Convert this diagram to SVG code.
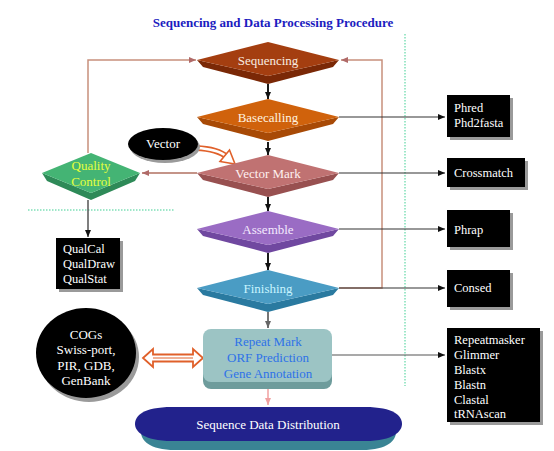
<svg xmlns="http://www.w3.org/2000/svg" width="554" height="451" viewBox="0 0 554 451">
<style>
.t{font-family:"Liberation Serif","Times New Roman",serif;font-size:12.5px;fill:#fff}
.dl{font-family:"Liberation Serif","Times New Roman",serif;font-size:13px;text-anchor:middle}
.blk{fill:#000}
.shd{fill:#9a9a9a}
.conn{fill:none;stroke:#333;stroke-width:1.2}
.loop{fill:none;stroke:#c8907c;stroke-width:1.5}
.dot{fill:none;stroke:#7fe0b8;stroke-width:1.5;stroke-dasharray:1.5 1.5}
</style>
<defs>
<marker id="ab" markerWidth="8" markerHeight="8" refX="7" refY="4" orient="auto" markerUnits="userSpaceOnUse"><path d="M0,1 L7,4 L0,7 Z" fill="#111"/></marker>
<marker id="ag" markerWidth="8" markerHeight="8" refX="7" refY="4" orient="auto" markerUnits="userSpaceOnUse"><path d="M0,1 L7,4 L0,7 Z" fill="#666"/></marker>
<marker id="ap" markerWidth="8" markerHeight="8" refX="7" refY="4" orient="auto" markerUnits="userSpaceOnUse"><path d="M0,1 L7,4 L0,7 Z" fill="#b06a68"/></marker>
<marker id="apk" markerWidth="8" markerHeight="8" refX="7" refY="4" orient="auto" markerUnits="userSpaceOnUse"><path d="M0,1 L7,4 L0,7 Z" fill="#f0a0a0"/></marker>
<path id="dTop" d="M-71,0 L0,-18 L71,0 L0,16 Z"/>
<path id="dSide" d="M-71,0 L0,16 L71,0 L65,7 L0,24 L-65,7 Z"/>
</defs>
<rect width="554" height="451" fill="#fff"/>
<text x="273" y="27" text-anchor="middle" style="font-family:'Liberation Serif','Times New Roman',serif;font-size:13px;font-weight:bold;fill:#1c1cc0">Sequencing and Data Processing Procedure</text>
<g id="guides">
<line class="dot" x1="405" y1="34" x2="405" y2="386"/>
<line class="dot" x1="28" y1="210" x2="174" y2="210"/>
</g>
<g id="connectors">
<line x1="268" y1="84" x2="268" y2="99" marker-end="url(#ab)" stroke="#000" stroke-width="1.8"/>
<line x1="268" y1="142" x2="268" y2="155" marker-end="url(#ab)" stroke="#000" stroke-width="1.8"/>
<line x1="268" y1="197" x2="268" y2="211" marker-end="url(#ab)" stroke="#000" stroke-width="1.8"/>
<line x1="268" y1="253" x2="268" y2="270" marker-end="url(#ab)" stroke="#000" stroke-width="1.8"/>
<line x1="268" y1="312" x2="268" y2="328" stroke="#666" stroke-width="1.8" marker-end="url(#ag)"/>
<line x1="268" y1="389" x2="268" y2="405" stroke="#f0a0a0" stroke-width="1.5" marker-end="url(#apk)"/>
<polyline class="loop" points="88,153 88,60 196,60" marker-end="url(#ap)"/>
<polyline class="loop" points="339,288 382,288 382,60 341,60" marker-end="url(#ap)"/>
<line x1="197" y1="173" x2="142" y2="173" stroke="#b07060" stroke-width="1.5" marker-end="url(#ap)"/>
<line x1="88" y1="200" x2="88" y2="237" stroke="#555" stroke-width="1.5" marker-end="url(#ab)"/>
<line class="conn" x1="339" y1="117" x2="445" y2="117" marker-end="url(#ab)"/>
<line class="conn" x1="339" y1="173" x2="445" y2="173" marker-end="url(#ab)"/>
<line class="conn" x1="339" y1="229" x2="445" y2="229" marker-end="url(#ab)"/>
<line class="conn" x1="339" y1="288" x2="445" y2="288" marker-end="url(#ab)"/>
<line class="conn" x1="332" y1="355" x2="445" y2="355" marker-end="url(#ab)" style="stroke:#555"/>
<path d="M196,148 Q218,149 227,157" fill="none" stroke="#e0602a" stroke-width="6"/>
<path d="M196,148 Q218,149 227,157" fill="none" stroke="#fff" stroke-width="2.5"/>
<polygon points="229.5,150 235,164 220,161.5" fill="#fff" stroke="#e0602a" stroke-width="1.6"/>
<polygon points="143,358 153,349 153,354.5 193,354.5 193,349 203,358 193,367 193,361.5 153,361.5 153,367" fill="#fff" stroke="#e0602a" stroke-width="1.8"/>
<line x1="153" y1="358" x2="193" y2="358" stroke="#e0602a" stroke-width="1"/>
</g>
<g id="sequencing" transform="translate(268,60)">
<use href="#dSide" fill="#7a2806"/><use href="#dTop" fill="#a43e10"/>
<text class="dl" y="5" fill="#f8ece0">Sequencing</text>
</g>
<g id="basecalling" transform="translate(268,117)">
<use href="#dSide" fill="#a84a06"/><use href="#dTop" fill="#d0620c"/>
<text class="dl" y="5" fill="#fff4e0">Basecalling</text>
</g>
<g id="vectormark" transform="translate(268,173)">
<use href="#dSide" fill="#985050"/><use href="#dTop" fill="#c07272"/>
<text class="dl" y="5" fill="#fff0f0">Vector Mark</text>
</g>
<g id="assemble" transform="translate(268,229)">
<use href="#dSide" fill="#7048a0"/><use href="#dTop" fill="#9a6cc4"/>
<text class="dl" y="5" fill="#f4eaff">Assemble</text>
</g>
<g id="finishing" transform="translate(268,288)">
<use href="#dSide" fill="#2a7aa0"/><use href="#dTop" fill="#4a9cc4"/>
<text class="dl" y="5" fill="#c8f4ff">Finishing</text>
</g>
<g id="qualitycontrol" transform="translate(91,173)">
<path d="M-49,0 L0,20 L49,0 L44,8 L0,27 L-44,8 Z" fill="#2e8a58"/>
<path d="M-49,0 L0,-20 L49,0 L0,20 Z" fill="#44b474"/>
<text class="dl" y="-3" fill="#e4ff3c">Quality</text>
<text class="dl" y="13" fill="#e4ff3c">Control</text>
</g>
<g id="vector">
<ellipse cx="165" cy="147" rx="35" ry="16" class="shd"/>
<ellipse cx="163" cy="144" rx="35" ry="16" class="blk"/>
<text class="dl" x="163" y="148" fill="#fff">Vector</text>
</g>
<g id="qualcal">
<rect x="59" y="241" width="64" height="51" class="shd"/>
<rect x="56" y="238" width="64" height="51" class="blk"/>
<text class="t" x="63" y="253">QualCal</text>
<text class="t" x="63" y="268">QualDraw</text>
<text class="t" x="63" y="283">QualStat</text>
</g>
<g id="phred">
<rect x="450" y="98" width="63" height="42" class="shd"/>
<rect x="447" y="95" width="63" height="42" class="blk"/>
<text class="t" x="454" y="112">Phred</text>
<text class="t" x="454" y="127">Phd2fasta</text>
</g>
<g id="crossmatch">
<rect x="450" y="161" width="78" height="29" class="shd"/>
<rect x="447" y="158" width="78" height="29" class="blk"/>
<text class="t" x="454" y="177">Crossmatch</text>
</g>
<g id="phrap">
<rect x="450" y="213" width="63" height="37" class="shd"/>
<rect x="447" y="210" width="63" height="37" class="blk"/>
<text class="t" x="454" y="234">Phrap</text>
</g>
<g id="consed">
<rect x="450" y="273" width="63" height="37" class="shd"/>
<rect x="447" y="270" width="63" height="37" class="blk"/>
<text class="t" x="454" y="292">Consed</text>
</g>
<g id="tools">
<rect x="450" y="331" width="93" height="94" class="shd"/>
<rect x="447" y="328" width="93" height="94" class="blk"/>
<text class="t" x="454" y="344">Repeatmasker</text>
<text class="t" x="454" y="359">Glimmer</text>
<text class="t" x="454" y="374">Blastx</text>
<text class="t" x="454" y="389">Blastn</text>
<text class="t" x="454" y="404">Clastal</text>
<text class="t" x="454" y="418">tRNAscan</text>
</g>
<g id="annotation">
<rect x="203" y="336" width="129" height="53" rx="8" fill="#6e9c9c"/>
<rect x="203" y="329" width="129" height="53" rx="8" fill="#9cc4c4"/>
<text class="dl" x="268" y="346" fill="#2e72e8">Repeat Mark</text>
<text class="dl" x="268" y="362" fill="#2e72e8">ORF Prediction</text>
<text class="dl" x="268" y="378" fill="#2e72e8">Gene Annotation</text>
</g>
<g id="databases">
<ellipse cx="89" cy="357" rx="50" ry="45" class="shd"/>
<ellipse cx="86" cy="353" rx="50" ry="45" class="blk"/>
<text class="dl" x="86" y="339" fill="#fff">COGs</text>
<text class="dl" x="86" y="354" fill="#fff">Swiss-port,</text>
<text class="dl" x="86" y="370" fill="#fff">PIR, GDB,</text>
<text class="dl" x="86" y="385" fill="#fff">GenBank</text>
</g>
<g id="distribution">
<path d="M175,416 H362 C388,416 396,424 396,432 C396,440 388,450 362,450 H175 C149,450 141,440 141,432 C141,424 149,416 175,416 Z" fill="#3a8494"/>
<path d="M172,407 H365 C394,407 402,416 402,424 C402,431 394,441 365,441 H172 C143,441 135,431 135,424 C135,416 143,407 172,407 Z" fill="#22228c"/>
<text class="dl" x="268" y="429" fill="#fff">Sequence Data Distribution</text>
</g>
</svg>
